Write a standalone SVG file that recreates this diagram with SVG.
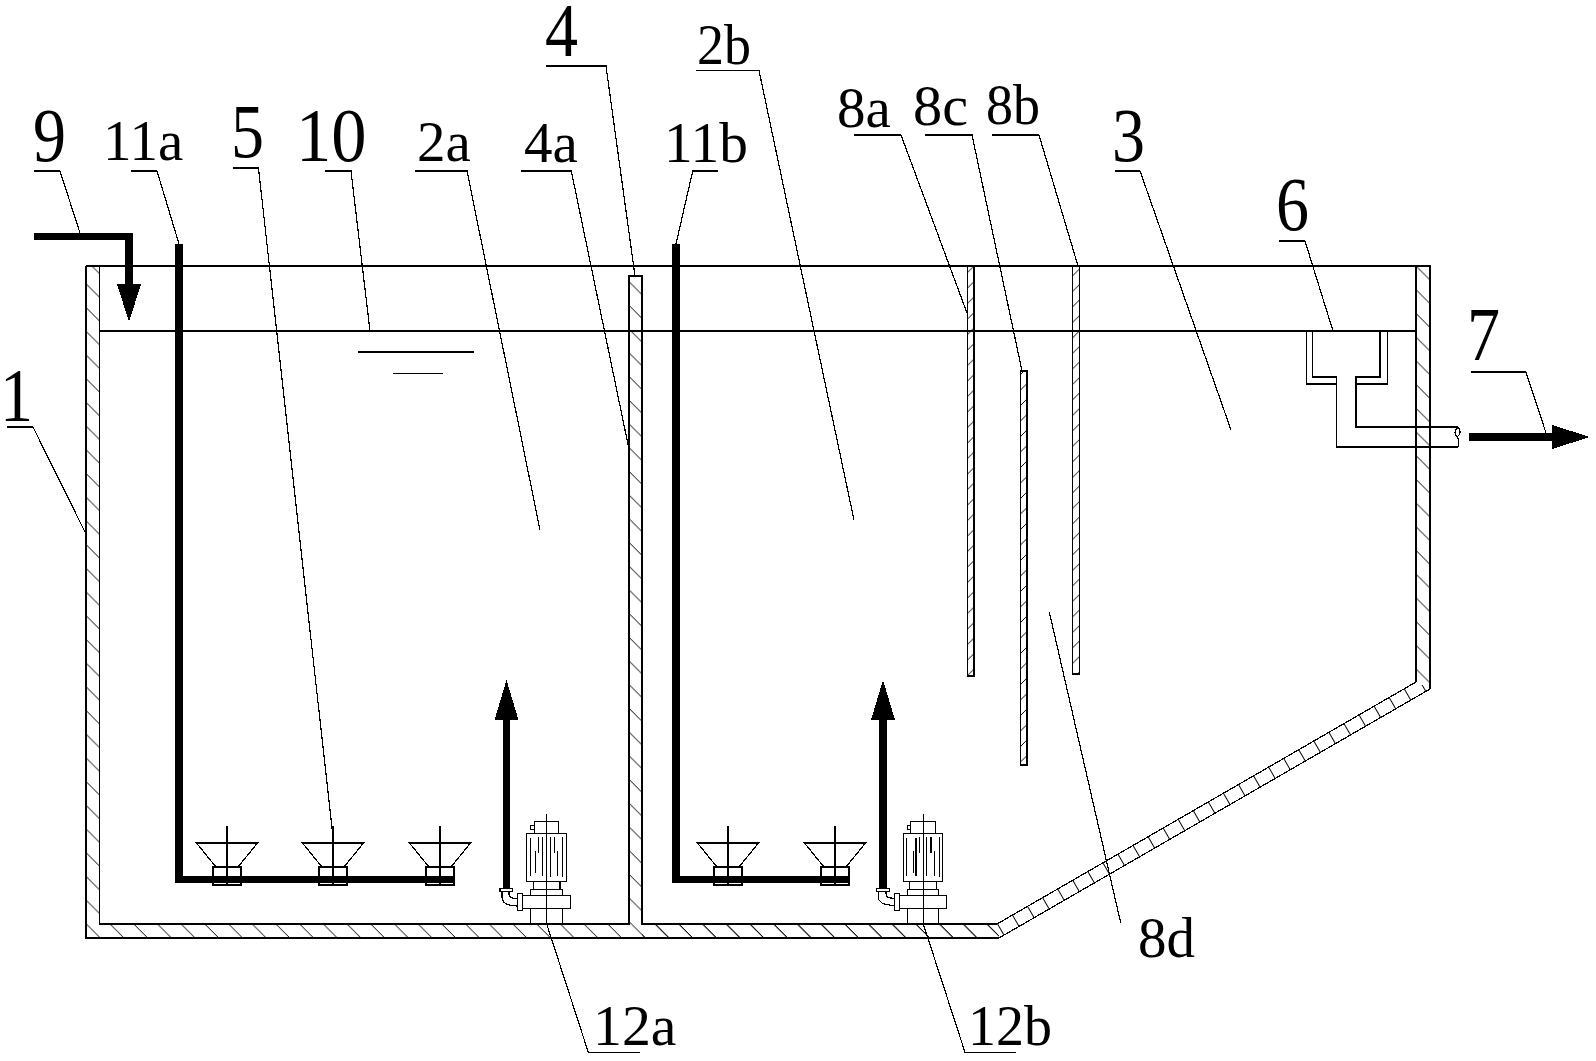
<svg xmlns="http://www.w3.org/2000/svg" width="1596" height="1061" viewBox="0 0 1596 1061" shape-rendering="crispEdges">
<style>
.l{fill:none;stroke:#000;stroke-width:1.2}
.o{fill:#fff;stroke:#000;stroke-width:1.2}
.k{fill:#000;stroke:none}
.t{font-family:"Liberation Serif","Times New Roman",serif;fill:#000}
.b{font-size:77px}
.s{font-size:57px}
</style>
<defs>
<pattern id="hL" patternUnits="userSpaceOnUse" width="23.7" height="23.7" patternTransform="translate(15.5,0)"><path d="M-1-1L24.7 24.7" stroke="#000" stroke-width="1.1" fill="none"/></pattern>
<pattern id="hR" patternUnits="userSpaceOnUse" width="23.7" height="23.7" patternTransform="translate(12.4,0)"><path d="M-1-1L24.7 24.7" stroke="#000" stroke-width="1.1" fill="none"/></pattern>
<pattern id="hB" patternUnits="userSpaceOnUse" width="15.5" height="15.5"><path d="M-1 16.5L16.5-1" stroke="#000" stroke-width="1.1" fill="none"/></pattern>
<pattern id="hS" patternUnits="userSpaceOnUse" width="17.4" height="40" patternTransform="rotate(-30 997 924)translate(997,924)"><path d="M0 0V40" stroke="#000" stroke-width="1.1" fill="none"/></pattern>
<g id="diff"><path class="o" d="M-30.5 0H30.5L11 24H-11Z"/><rect class="o" x="-14" y="24" width="28" height="18"/><path class="l" d="M0-17V42"/></g>
</defs>
<g id="tank">
<path d="M86 266V938H999L1000 924H99.5V266Z" fill="url(#hL)"/>
<path d="M629 276V924H642V276Z" fill="url(#hL)"/>
<path d="M642 924H997L999 938H642Z" fill="url(#hL)"/>
<path d="M997 924L1416 682L1430 689L999 938Z" fill="url(#hS)"/>
<path d="M1416 266V682L1430 689V266Z" fill="url(#hR)"/>
<path class="l" d="M99.5 266H1416M99.5 331H1416M358 352H474M393 373.5H443"/>
<path class="l" d="M86 266V938H999L1430 689V266H1416V682L997 924H642V276H629V924H99.5V266H86"/>
</g>
<g id="baffle-8a"><rect x="967.5" y="266" width="6.5" height="410" fill="url(#hB)"/><rect class="l" x="967.5" y="266" width="6.5" height="410"/></g>
<g id="baffle-8b"><rect x="1072.5" y="266" width="7" height="408" fill="url(#hB)"/><rect class="l" x="1072.5" y="266" width="7" height="408"/></g>
<g id="baffle-8c"><rect x="1020.5" y="371" width="6.5" height="394" fill="url(#hB)"/><rect class="l" x="1020.5" y="371" width="6.5" height="394"/></g>
<g id="weir-6"><path class="l" d="M1312.5 331V377H1336.7V447H1458M1306.7 331V384H1336.7M1380 331V377H1356V427H1458M1387.7 331V384H1356M1458 427C1454 431 1454 434 1457 437C1460 441 1459 444 1458 447M1458 427C1461 430 1461 434 1457 437"/></g>
<g id="arrow-7"><path class="k" d="M1469 433H1552V425L1590 437L1552 449V441H1469Z"/></g>
<g id="pipe-9"><path class="k" d="M34 233H133V284H141L129 322L117 284H125V240H34Z"/></g>
<g id="pipe-11a">
<use href="#diff" x="227" y="843"/><use href="#diff" x="333" y="843"/><use href="#diff" x="440" y="843"/>
<path class="k" d="M175 244H183V876H455V883H175Z"/>
</g>
<g id="pipe-11b">
<use href="#diff" x="728" y="843"/><use href="#diff" x="835" y="843"/>
<path class="k" d="M672 244H680V876H850V883H672Z"/>
</g>
<g id="arrow-12a"><path class="k" d="M503 888V720H494.5L506.5 680L518.5 720H510V888Z"/></g>
<g id="arrow-12b"><path class="k" d="M879 888V720H871L883 680L895 720H887V888Z"/></g>
<g id="pump-12a">
<rect class="o" x="530.3" y="825.3" width="4" height="4"/>
<rect class="o" x="534.3" y="821.3" width="24.4" height="12"/>
<rect class="o" x="526.3" y="833.3" width="40.4" height="48"/>
<rect class="o" x="533.3" y="881.3" width="26.7" height="8"/>
<rect class="o" x="530.3" y="889.3" width="32.4" height="6"/>
<rect class="o" x="522.3" y="895.3" width="48.4" height="13.4"/>
<rect class="o" x="517.3" y="893.3" width="5" height="17"/>
<rect class="o" x="530.3" y="908.7" width="32.4" height="15.3"/>
<rect class="o" x="500" y="888.3" width="12.7" height="3.4"/>
<path class="l" d="M502 891.7V897C502 903 508 906 517.3 906M509 891.7V894C509 897 512 898.7 517.3 898.7"/>
<path class="l" d="M530.5 838V876M535.3 851V873M538.7 837V853M542.7 837V876M550.3 837V877M554.3 837V853M557.7 851V876M562.7 837V877"/>
<path class="l" d="M546.7 814V924"/>
<path class="k" d="M530 923H563V925H530Z"/>
</g>
<g id="pump-12b">
<rect class="o" x="907.3" y="825.3" width="3" height="4"/>
<rect class="o" x="910.3" y="821.3" width="25.4" height="12"/>
<rect class="o" x="903.3" y="833.3" width="39.4" height="48"/>
<rect class="o" x="909.3" y="881.3" width="27" height="8"/>
<rect class="o" x="907.3" y="889.3" width="31.4" height="6"/>
<rect class="o" x="899.7" y="895.3" width="47" height="13.4"/>
<rect class="o" x="894.3" y="893.3" width="5.4" height="17"/>
<rect class="o" x="907.3" y="908.7" width="31.4" height="15.3"/>
<rect class="o" x="876.3" y="888.3" width="13.4" height="3.4"/>
<path class="l" d="M878.3 891.7V897C878.3 902 884 905.3 894.3 905.3M886 891.7V894C886 897 889 898.3 894.3 898.3"/>
<path class="l" d="M906.3 838V876M913.7 851V873M919.3 837V853M926.3 837V876M931 837V853M934.3 851V876M939.7 837V877M916 838V876"/>
<path class="l" d="M923.3 814V924"/>
<path class="k" d="M907 923H939V925H907Z"/>
</g>
<g id="connectors">
<path class="l" d="M34 171H60L80 233"/>
<path class="l" d="M131 171H157L179 244"/>
<path class="l" d="M233 168H258.5L333 837"/>
<path class="l" d="M325 171H351L370 331"/>
<path class="l" d="M415 171H467L540 530"/>
<path class="l" d="M521 171H571.3L630 454"/>
<path class="l" d="M546 66H606L635 276"/>
<path class="l" d="M696 70.5H759L854 520"/>
<path class="l" d="M718 171H692.7L676 244"/>
<path class="l" d="M854 135H901L967 313"/>
<path class="l" d="M925 135H972L1022 371"/>
<path class="l" d="M992 135H1039L1078 266"/>
<path class="l" d="M1115 171H1140L1231 430"/>
<path class="l" d="M1279 241H1305L1333 331"/>
<path class="l" d="M1471 372H1526L1546 433"/>
<path class="l" d="M7 427H33L85 532"/>
<path class="l" d="M1049.3 612L1120.7 923"/>
<path class="l" d="M546.7 924L588.3 1052.3H640"/>
<path class="l" d="M923.3 924L965 1052.3H1016"/>
</g>
<g id="labels">
<text class="t b" x="33" y="161" textLength="33" lengthAdjust="spacingAndGlyphs">9</text>
<text class="t s" x="103" y="160">11a</text>
<text class="t b" x="231" y="157" textLength="33" lengthAdjust="spacingAndGlyphs">5</text>
<text class="t b" x="296" y="161" textLength="70.5" lengthAdjust="spacingAndGlyphs">10</text>
<text class="t s" x="417" y="161">2a</text>
<text class="t s" x="524" y="162">4a</text>
<text class="t s" x="664" y="162" textLength="84" lengthAdjust="spacingAndGlyphs">11b</text>
<text class="t b" x="545" y="56" textLength="33" lengthAdjust="spacingAndGlyphs">4</text>
<text class="t s" x="697" y="64" textLength="54" lengthAdjust="spacingAndGlyphs">2b</text>
<text class="t s" x="837" y="127">8a</text>
<text class="t s" x="913" y="125" textLength="55" lengthAdjust="spacingAndGlyphs">8c</text>
<text class="t s" x="986" y="124" textLength="54" lengthAdjust="spacingAndGlyphs">8b</text>
<text class="t b" x="1112" y="161" textLength="33" lengthAdjust="spacingAndGlyphs">3</text>
<text class="t b" x="1276" y="230" textLength="33" lengthAdjust="spacingAndGlyphs">6</text>
<text class="t b" x="1467" y="360" textLength="33" lengthAdjust="spacingAndGlyphs">7</text>
<text class="t b" x="0" y="421" textLength="33" lengthAdjust="spacingAndGlyphs">1</text>
<text class="t s" x="1138" y="957">8d</text>
<text class="t s" x="593" y="1045" textLength="83.5" lengthAdjust="spacingAndGlyphs">12a</text>
<text class="t s" x="968" y="1045" textLength="84" lengthAdjust="spacingAndGlyphs">12b</text>
</g>
</svg>
